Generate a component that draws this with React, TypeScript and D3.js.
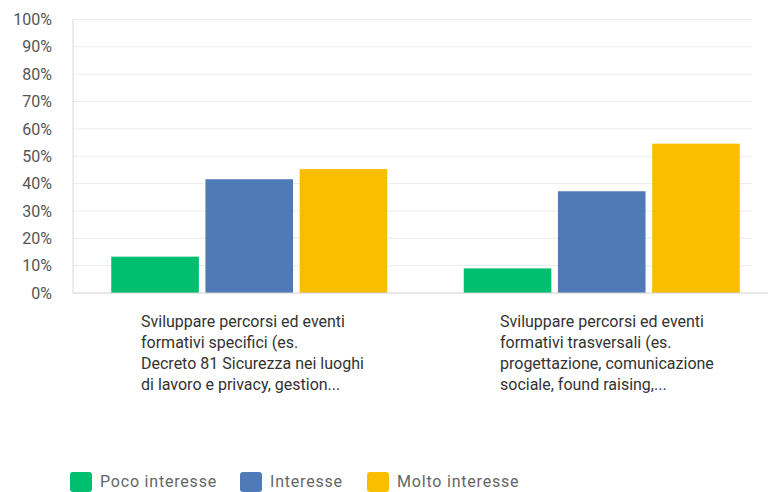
import React from "react";
import * as d3 from "d3";

const categories = [
  ["Sviluppare percorsi ed eventi", "formativi specifici (es.", "Decreto 81 Sicurezza nei luoghi", "di lavoro e privacy, gestion..."],
  ["Sviluppare percorsi ed eventi", "formativi trasversali (es.", "progettazione, comunicazione", "sociale, found raising,..."],
];
const seriesNames = ["Poco interesse", "Interesse", "Molto interesse"];
const seriesColors = ["#00bf6f", "#5079b8", "#f9be00"];
const pocoInteresse = [13.3, 9.0];
const interesse = [41.6, 37.2];
const moltoInteresse = [45.3, 54.6];
const yTicks = [0, 10, 20, 30, 40, 50, 60, 70, 80, 90, 100];

export default function App() {
  const W = 768, H = 492;
  const x0 = 73, x1 = 778, yBase = 293, yTop = 19.5;
  const y = d3.scaleLinear().domain([0, 100]).range([yBase, yTop]);
  const xCat = d3.scaleBand<number>().domain([0, 1]).range([x0, x1]).paddingInner(0.217).paddingOuter(0.1085);
  const xSer = d3.scaleBand<number>().domain([0, 1, 2]).range([0, xCat.bandwidth()]).paddingInner(0.07);
  const values = [pocoInteresse, interesse, moltoInteresse];
  const font = "Roboto, 'Open Sans', sans-serif";
  const labelX = [141, 500];
  const legendX = [70, 240, 367];
  return (
    <svg width={W} height={H} style={{ position: "absolute", left: 0, top: 0, background: "#fff" }} fontFamily={font}>
      {yTicks.map((t) => (
        <g key={t}>
          {t > 0 && <line x1={x0} x2={752} y1={y(t)} y2={y(t)} stroke="#ececec" strokeWidth={1} />}
          <text x={52} y={y(t)} dy="0.35em" textAnchor="end" fontSize={16} fill="#555">{t}%</text>
        </g>
      ))}
      <line x1={x0} x2={x0} y1={yTop} y2={yBase} stroke="#d8d8d8" />
      {categories.map((_, ci) =>
        values.map((vals, si) => (
          <rect key={`${ci}-${si}`} x={(xCat(ci) ?? 0) + (xSer(si) ?? 0)} y={y(vals[ci])}
            width={xSer.bandwidth()} height={yBase - y(vals[ci])} fill={seriesColors[si]} />
        ))
      )}
      <line x1={x0} x2={W} y1={yBase} y2={yBase} stroke="#d0d0d0" />
      {categories.map((lines, ci) => (
        <text key={ci} x={labelX[ci]} y={327} fontSize={16} fill="#333">
          {lines.map((l, i) => (
            <tspan key={i} x={labelX[ci]} dy={i === 0 ? 0 : 21}>{l}</tspan>
          ))}
        </text>
      ))}
      {seriesNames.map((n, i) => (
        <g key={n}>
          <rect x={legendX[i]} y={472} width={22} height={20} rx={3} fill={seriesColors[i]} />
          <text x={legendX[i] + 30} y={481} dy="0.35em" fontSize={16} letterSpacing={0.8} fill="#666">{n}</text>
        </g>
      ))}
    </svg>
  );
}
